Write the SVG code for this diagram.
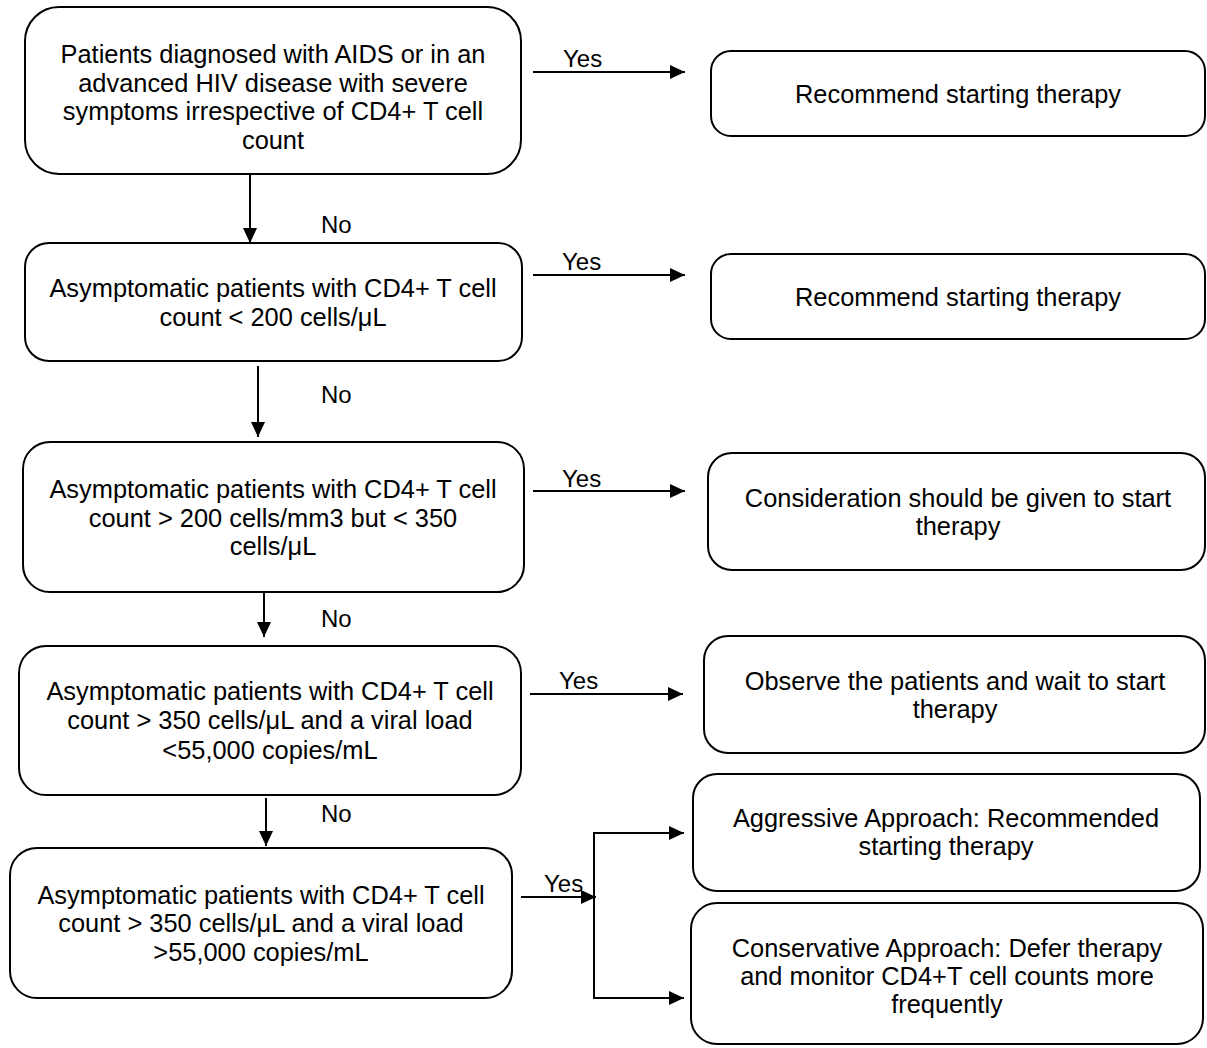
<svg xmlns="http://www.w3.org/2000/svg" width="1207" height="1048" viewBox="0 0 1207 1048">
<style>
.box{fill:#fff;stroke:#000;stroke-width:2}
.t{font-family:"Liberation Sans",Arial,sans-serif;font-size:25.4px;fill:#000;text-anchor:middle}
.lbl{font-family:"Liberation Sans",Arial,sans-serif;font-size:24px;fill:#000}
.c{stroke:#000;stroke-width:2;fill:none}
</style>
<defs>
<marker id="ah" viewBox="0 0 15 14" refX="15" refY="7" markerWidth="15" markerHeight="14" markerUnits="userSpaceOnUse" orient="auto">
<path d="M0,0 L15,7 L0,14 z" fill="#000"/>
</marker>
</defs>
<rect width="1207" height="1048" fill="#fff"/>

<g id="n1">
<rect class="box" x="25" y="7" width="496" height="167" rx="34"/>
<text class="t" x="273" y="63">Patients diagnosed with AIDS or in an</text>
<text class="t" x="273" y="92">advanced HIV disease with severe</text>
<text class="t" x="273" y="120">symptoms irrespective of CD4+ T cell</text>
<text class="t" x="273" y="149">count</text>
</g>
<g id="n2">
<rect class="box" x="25" y="243" width="497" height="118" rx="24"/>
<text class="t" x="273" y="297">Asymptomatic patients with CD4+ T cell</text>
<text class="t" x="273" y="326">count &lt; 200 cells/μL</text>
</g>
<g id="n3">
<rect class="box" x="23" y="442" width="501" height="150" rx="27"/>
<text class="t" x="273" y="498">Asymptomatic patients with CD4+ T cell</text>
<text class="t" x="273" y="527">count &gt; 200 cells/mm3 but &lt; 350</text>
<text class="t" x="273" y="555">cells/μL</text>
</g>
<g id="n4">
<rect class="box" x="19" y="646" width="502" height="149" rx="27"/>
<text class="t" x="270" y="700">Asymptomatic patients with CD4+ T cell</text>
<text class="t" x="270" y="729">count &gt; 350 cells/μL and a viral load</text>
<text class="t" x="270" y="759">&lt;55,000 copies/mL</text>
</g>
<g id="n5">
<rect class="box" x="10" y="848" width="502" height="150" rx="27"/>
<text class="t" x="261" y="904">Asymptomatic patients with CD4+ T cell</text>
<text class="t" x="261" y="932">count &gt; 350 cells/μL and a viral load</text>
<text class="t" x="261" y="961">&gt;55,000 copies/mL</text>
</g>
<g id="r1">
<rect class="box" x="711" y="51" width="494" height="85" rx="20"/>
<text class="t" x="958" y="103">Recommend starting therapy</text>
</g>
<g id="r2">
<rect class="box" x="711" y="254" width="494" height="85" rx="20"/>
<text class="t" x="958" y="306">Recommend starting therapy</text>
</g>
<g id="r3">
<rect class="box" x="708" y="453" width="497" height="117" rx="24"/>
<text class="t" x="958" y="507">Consideration should be given to start</text>
<text class="t" x="958" y="535">therapy</text>
</g>
<g id="r4">
<rect class="box" x="704" y="636" width="501" height="117" rx="24"/>
<text class="t" x="955" y="690">Observe the patients and wait to start</text>
<text class="t" x="955" y="718">therapy</text>
</g>
<g id="r5">
<rect class="box" x="693" y="774" width="507" height="117" rx="24"/>
<text class="t" x="946" y="827">Aggressive Approach: Recommended</text>
<text class="t" x="946" y="855">starting therapy</text>
</g>
<g id="r6">
<rect class="box" x="691" y="903" width="512" height="141" rx="26"/>
<text class="t" x="947" y="957">Conservative Approach: Defer therapy</text>
<text class="t" x="947" y="985">and monitor CD4+T cell counts more</text>
<text class="t" x="947" y="1013">frequently</text>
</g>

<g id="connectors">
<line class="c" x1="533" y1="72" x2="685" y2="72" marker-end="url(#ah)"/>
<line class="c" x1="533" y1="275" x2="685" y2="275" marker-end="url(#ah)"/>
<line class="c" x1="533" y1="491" x2="685" y2="491" marker-end="url(#ah)"/>
<line class="c" x1="530" y1="694" x2="683" y2="694" marker-end="url(#ah)"/>
<line class="c" x1="521" y1="897" x2="596" y2="897" marker-end="url(#ah)"/>
<line class="c" x1="594" y1="833" x2="594" y2="998"/>
<line class="c" x1="593" y1="833" x2="684" y2="833" marker-end="url(#ah)"/>
<line class="c" x1="593" y1="998" x2="684" y2="998" marker-end="url(#ah)"/>
<line class="c" x1="250" y1="174" x2="250" y2="243" marker-end="url(#ah)"/>
<line class="c" x1="258" y1="366" x2="258" y2="437" marker-end="url(#ah)"/>
<line class="c" x1="264" y1="592" x2="264" y2="637" marker-end="url(#ah)"/>
<line class="c" x1="266" y1="798" x2="266" y2="846" marker-end="url(#ah)"/>
<text class="lbl" x="563" y="67">Yes</text>
<text class="lbl" x="562" y="270">Yes</text>
<text class="lbl" x="562" y="487">Yes</text>
<text class="lbl" x="559" y="689">Yes</text>
<text class="lbl" x="544" y="892">Yes</text>
<text class="lbl" x="321" y="233">No</text>
<text class="lbl" x="321" y="403">No</text>
<text class="lbl" x="321" y="627">No</text>
<text class="lbl" x="321" y="822">No</text>
</g>
</svg>
